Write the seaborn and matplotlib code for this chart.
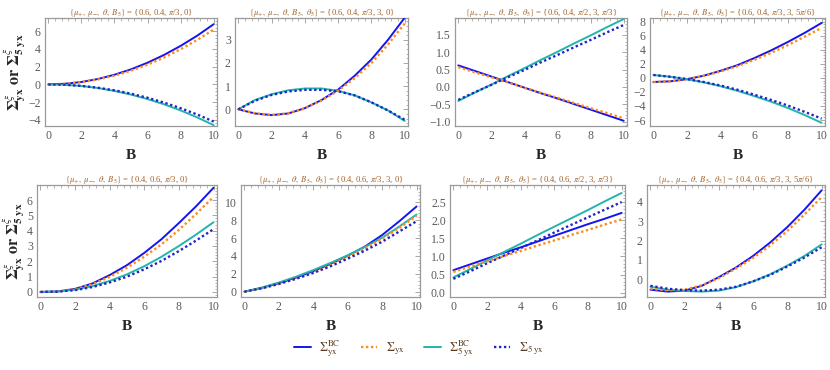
import numpy as np
import pandas as pd
import matplotlib
matplotlib.use('Agg')
import matplotlib.pyplot as plt
import seaborn as sns
from matplotlib.ticker import MultipleLocator, AutoMinorLocator

# ── Data (B = 0 … 10) ─────────────────────────────────────────────────────────
B = [0, 1, 2, 3, 4, 5, 6, 7, 8, 9, 10]

titles = [
    r"$\{\mu_{+},\ \mu_{-},\ \theta,\ B_5\}$ = {0.6, 0.4, $\pi$/3, 0}",
    r"$\{\mu_{+},\ \mu_{-},\ \theta,\ B_5,\ \theta_5\}$ = {0.6, 0.4, $\pi$/3, 3, 0}",
    r"$\{\mu_{+},\ \mu_{-},\ \theta,\ B_5,\ \theta_5\}$ = {0.6, 0.4, $\pi$/2, 3, $\pi$/3}",
    r"$\{\mu_{+},\ \mu_{-},\ \theta,\ B_5,\ \theta_5\}$ = {0.6, 0.4, $\pi$/3, 3, 5$\pi$/6}",
    r"$\{\mu_{+},\ \mu_{-},\ \theta,\ B_5\}$ = {0.4, 0.6, $\pi$/3, 0}",
    r"$\{\mu_{+},\ \mu_{-},\ \theta,\ B_5,\ \theta_5\}$ = {0.4, 0.6, $\pi$/3, 3, 0}",
    r"$\{\mu_{+},\ \mu_{-},\ \theta,\ B_5,\ \theta_5\}$ = {0.4, 0.6, $\pi$/2, 3, $\pi$/3}",
    r"$\{\mu_{+},\ \mu_{-},\ \theta,\ B_5,\ \theta_5\}$ = {0.4, 0.6, $\pi$/3, 3, 5$\pi$/6}",
]

# Sigma^BC_yx (blue solid)
bc_yx = [
    [0, 0.07, 0.27, 0.61, 1.09, 1.70, 2.45, 3.33, 4.35, 5.50, 6.80],
    [0, -0.18, -0.25, -0.18, 0.05, 0.40, 0.85, 1.45, 2.15, 3.00, 3.95],
    [0.62, 0.46, 0.30, 0.14, -0.02, -0.18, -0.33, -0.49, -0.65, -0.81, -0.97],
    [-0.60, -0.50, -0.20, 0.30, 1.00, 1.80, 2.80, 3.90, 5.10, 6.40, 7.80],
    [0, 0.03, 0.20, 0.55, 1.10, 1.75, 2.55, 3.45, 4.50, 5.60, 6.80],
    [0, 0.42, 0.95, 1.58, 2.30, 3.12, 4.03, 5.05, 6.35, 7.90, 9.55],
    [0.62, 0.78, 0.94, 1.10, 1.25, 1.41, 1.57, 1.73, 1.89, 2.04, 2.20],
    [-0.55, -0.65, -0.60, -0.35, 0.10, 0.60, 1.20, 1.90, 2.70, 3.60, 4.60],
]
# Sigma_yx (orange dotted)
s_yx = [
    [0, 0.06, 0.25, 0.56, 0.99, 1.55, 2.23, 3.04, 3.97, 5.02, 6.20],
    [0, -0.17, -0.24, -0.17, 0.04, 0.38, 0.80, 1.35, 2.00, 2.80, 3.70],
    [0.57, 0.42, 0.28, 0.13, -0.02, -0.17, -0.31, -0.46, -0.61, -0.75, -0.90],
    [-0.60, -0.50, -0.20, 0.28, 0.90, 1.65, 2.55, 3.55, 4.65, 5.85, 7.10],
    [0, 0.03, 0.18, 0.50, 0.98, 1.58, 2.30, 3.12, 4.05, 5.10, 6.20],
    [0, 0.35, 0.85, 1.45, 2.15, 2.95, 3.85, 4.85, 5.95, 7.15, 8.50],
    [0.57, 0.72, 0.86, 1.01, 1.15, 1.30, 1.44, 1.59, 1.73, 1.88, 2.02],
    [-0.50, -0.58, -0.55, -0.32, 0.05, 0.55, 1.10, 1.75, 2.50, 3.35, 4.25],
]
# Sigma^BC_5yx (teal solid)
bc_5yx = [
    [0, -0.05, -0.18, -0.41, -0.74, -1.15, -1.66, -2.25, -2.94, -3.73, -4.60],
    [0, 0.40, 0.65, 0.82, 0.90, 0.90, 0.80, 0.60, 0.30, -0.05, -0.50],
    [-0.40, -0.16, 0.07, 0.31, 0.54, 0.78, 1.01, 1.25, 1.48, 1.72, 1.95],
    [0.40, 0.15, -0.20, -0.65, -1.20, -1.85, -2.60, -3.40, -4.30, -5.30, -6.40],
    [0, 0.03, 0.15, 0.38, 0.72, 1.15, 1.68, 2.30, 3.00, 3.75, 4.55],
    [0, 0.45, 1.02, 1.68, 2.42, 3.22, 4.08, 5.00, 6.05, 7.30, 8.65],
    [0.42, 0.65, 0.89, 1.12, 1.35, 1.59, 1.82, 2.05, 2.28, 2.52, 2.75],
    [-0.40, -0.55, -0.62, -0.65, -0.60, -0.42, -0.12, 0.25, 0.70, 1.20, 1.80],
]
# Sigma_5yx (navy dotted)
s_5yx = [
    [0, -0.04, -0.17, -0.38, -0.67, -1.05, -1.51, -2.06, -2.69, -3.40, -4.20],
    [0, 0.37, 0.62, 0.77, 0.84, 0.84, 0.78, 0.60, 0.30, -0.05, -0.45],
    [-0.37, -0.15, 0.06, 0.28, 0.49, 0.71, 0.92, 1.14, 1.35, 1.57, 1.78],
    [0.40, 0.15, -0.18, -0.60, -1.10, -1.70, -2.40, -3.15, -3.95, -4.85, -5.80],
    [0, 0.02, 0.12, 0.32, 0.62, 1.00, 1.48, 2.03, 2.67, 3.36, 4.10],
    [0, 0.38, 0.88, 1.45, 2.10, 2.85, 3.70, 4.60, 5.60, 6.75, 7.90],
    [0.38, 0.59, 0.81, 1.02, 1.23, 1.44, 1.66, 1.87, 2.08, 2.29, 2.50],
    [-0.35, -0.50, -0.58, -0.60, -0.55, -0.40, -0.12, 0.22, 0.65, 1.12, 1.65],
]

series_labels = [r"$\Sigma^{\rm BC}_{\rm yx}$", r"$\Sigma_{\rm yx}$",
                 r"$\Sigma^{\rm BC}_{\rm 5\;yx}$", r"$\Sigma_{\rm 5\;yx}$"]

# ── Layout / style ────────────────────────────────────────────────────────────
ylims = [(-4.7, 7.5), (-0.72, 3.94), (-1.12, 1.98), (-6.85, 8.5),
         (-0.33, 6.98), (-0.6, 11.96), (-0.12, 2.97), (-0.93, 4.88)]
ysteps = [2, 1, 0.5, 2, 1, 2, 0.5, 1]
yfmt = [None, None, "{:.1f}", None, None, None, "{:.1f}", None]

W, H = 830, 370
boxes = [(45, 18, 217, 126), (235, 18, 408, 126), (455, 18, 627, 126), (650, 18, 825, 126),
         (37, 185, 217, 297), (241, 185, 420, 297), (450, 185, 625, 297), (647, 185, 825, 297)]

colors = ["#1414f0", "#ff8c1a", "#22b5ad", "#2323c8"]
styles = ["-", (0, (1, 1.1)), "-", (0, (1, 1.1))]
widths = [1.4, 1.7, 1.4, 1.7]

sns.set_style("white")
plt.rcParams["font.family"] = ["Liberation Serif", "DejaVu Serif"]
plt.rcParams["mathtext.fontset"] = "stix"

fig = plt.figure(figsize=(W / 100, H / 100), dpi=100)
grey = "#5a5a5a"
title_col = "#a0652d"

for i in range(8):
    x0, y0, x1, y1 = boxes[i]
    ax = fig.add_axes([x0 / W, 1 - y1 / H, (x1 - x0) / W, (y1 - y0) / H])
    df = pd.DataFrame({"B": B, "s0": bc_yx[i], "s1": s_yx[i],
                       "s2": bc_5yx[i], "s3": s_5yx[i]})
    for k in range(4):
        sns.lineplot(data=df, x="B", y=f"s{k}", ax=ax, color=colors[k],
                     linestyle=styles[k], linewidth=widths[k], zorder=3 + (k % 2))
    ax.set_xlim(-0.2, 10.2)
    ax.set_ylim(*ylims[i])
    ax.xaxis.set_major_locator(MultipleLocator(2))
    ax.xaxis.set_minor_locator(AutoMinorLocator(5))
    ax.yaxis.set_major_locator(MultipleLocator(ysteps[i]))
    ax.yaxis.set_minor_locator(AutoMinorLocator(5))
    if yfmt[i]:
        ax.yaxis.set_major_formatter(matplotlib.ticker.FuncFormatter(
            lambda v, p, f=yfmt[i]: f.format(v).replace("-", "\u2212")))
    ax.tick_params(which="both", direction="in", top=True, right=True,
                   colors="#999999", labelcolor=grey, labelsize=8.5, pad=3)
    ax.tick_params(which="major", length=3.5, width=0.6)
    ax.tick_params(which="minor", length=1.8, width=0.5)
    for sp in ax.spines.values():
        sp.set_color("#9a9a9a")
        sp.set_linewidth(0.9)
    ax.set_xlabel("B", fontsize=11, fontweight="bold", labelpad=5)
    ax.set_ylabel("")
    ax.set_title(titles[i], fontsize=6.2, color=title_col, pad=2)
    if i in (0, 4):
        ax.set_ylabel(r"$\mathbf{\Sigma}^{\xi}_{\mathbf{yx}}$ $\mathbf{or}$ "
                      r"$\mathbf{\Sigma}^{\xi}_{\mathbf{5\;yx}}$",
                      fontsize=11.5, labelpad=0)

handles = [plt.Line2D([], [], color=colors[k], linestyle=styles[k], linewidth=widths[k])
           for k in range(4)]
leg = fig.legend(handles, series_labels, loc="center", bbox_to_anchor=(0.505, 0.058),
                 ncol=4, frameon=False, fontsize=9, handlelength=1.3,
                 columnspacing=1.6, handletextpad=0.7)
for t in leg.get_texts():
    t.set_color("#5b3a1e")

fig.savefig("out.png", dpi=100)
